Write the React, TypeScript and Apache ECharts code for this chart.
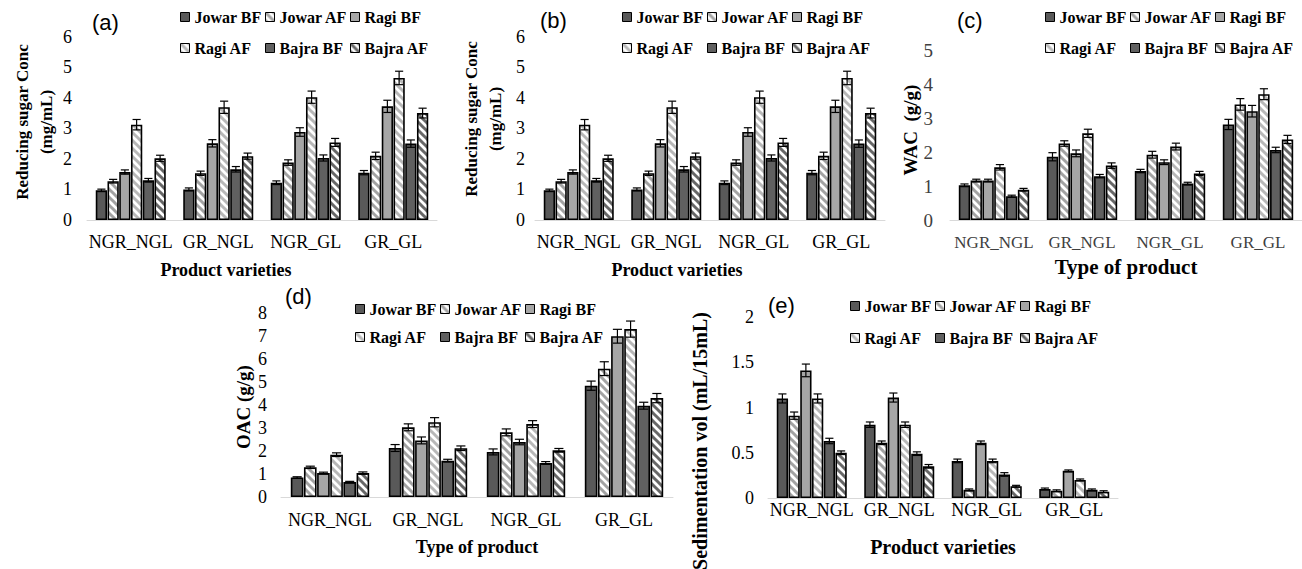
import React, { useEffect, useRef } from "react";
import * as echarts from "echarts";

const categories = ["NGR_NGL", "GR_NGL", "NGR_GL", "GR_GL"];
const seriesNames = ["Jowar BF", "Jowar AF", "Ragi BF", "Ragi AF", "Bajra BF", "Bajra AF"];

// rows = series (Jowar BF, Jowar AF, Ragi BF, Ragi AF, Bajra BF, Bajra AF), cols = categories
const sugarValues = [
  [0.97, 1.0, 1.22, 1.55],
  [1.27, 1.53, 1.88, 2.1],
  [1.57, 2.51, 2.88, 3.72],
  [3.12, 3.69, 4.02, 4.65],
  [1.3, 1.66, 2.03, 2.5],
  [2.02, 2.09, 2.54, 3.5],
];
const sugarErrors = [
  [0.04, 0.05, 0.06, 0.07],
  [0.06, 0.07, 0.09, 0.12],
  [0.07, 0.12, 0.14, 0.2],
  [0.17, 0.2, 0.2, 0.22],
  [0.06, 0.09, 0.1, 0.12],
  [0.1, 0.1, 0.13, 0.16],
];
const wacValues = [
  [1.02, 1.86, 1.44, 2.81],
  [1.16, 2.25, 1.92, 3.4],
  [1.16, 1.96, 1.7, 3.2],
  [1.55, 2.55, 2.16, 3.7],
  [0.7, 1.29, 1.07, 2.06],
  [0.89, 1.6, 1.37, 2.37],
];
const wacErrors = [
  [0.04, 0.12, 0.05, 0.15],
  [0.04, 0.08, 0.1, 0.17],
  [0.04, 0.1, 0.07, 0.17],
  [0.08, 0.12, 0.1, 0.16],
  [0.03, 0.05, 0.04, 0.08],
  [0.04, 0.08, 0.06, 0.12],
];
const oacValues = [
  [0.85, 2.13, 1.96, 4.84],
  [1.29, 3.03, 2.81, 5.58],
  [1.04, 2.46, 2.39, 6.99],
  [1.84, 3.25, 3.17, 7.3],
  [0.65, 1.58, 1.48, 3.97],
  [1.04, 2.12, 2.03, 4.3],
];
const oacErrors = [
  [0.03, 0.15, 0.13, 0.2],
  [0.05, 0.15, 0.15, 0.3],
  [0.04, 0.15, 0.12, 0.3],
  [0.08, 0.2, 0.15, 0.35],
  [0.03, 0.06, 0.06, 0.15],
  [0.05, 0.1, 0.08, 0.2],
];
const sedValues = [
  [1.1, 0.81, 0.41, 0.1],
  [0.91, 0.61, 0.09, 0.08],
  [1.41, 1.11, 0.61, 0.3],
  [1.1, 0.81, 0.41, 0.2],
  [0.63, 0.49, 0.26, 0.09],
  [0.5, 0.35, 0.13, 0.07],
];
const sedErrors = [
  [0.05, 0.03, 0.02, 0.01],
  [0.04, 0.02, 0.01, 0.01],
  [0.07, 0.05, 0.02, 0.01],
  [0.05, 0.03, 0.02, 0.01],
  [0.03, 0.02, 0.02, 0.01],
  [0.02, 0.02, 0.01, 0.01],
];

const SERIF = "Liberation Serif, Times New Roman, serif";
const SANS = "Liberation Sans, Arial, sans-serif";
const CAT_GAP = 0.2;
const BAR_GAP = 0.04;

const fillColors = ["#595959", "#ffffff", "#a6a6a6", "#ffffff", "#606060", "#ffffff"];
const stripeColors = [null, "#a3a3a3", null, "#b8b8b8", null, "#686868"];

// downward diagonal stripes ("\") drawn on a small tile
function stripePattern(color: string): any {
  const size = 8;
  const c = document.createElement("canvas");
  c.width = size;
  c.height = size;
  const ctx = c.getContext("2d")!;
  ctx.fillStyle = "#ffffff";
  ctx.fillRect(0, 0, size, size);
  ctx.strokeStyle = color;
  ctx.lineWidth = 3;
  [-size, 0, size].forEach((k) => {
    ctx.beginPath();
    ctx.moveTo(k - 2, -2);
    ctx.lineTo(k + size + 2, size + 2);
    ctx.stroke();
  });
  return { image: c.toDataURL(), imageWidth: size, imageHeight: size, repeat: "repeat" };
}

function barStyle(si: number) {
  const stripe = stripeColors[si];
  return {
    color: stripe ? stripePattern(stripe) : fillColors[si],
    borderColor: "#000",
    borderWidth: 1.6,
  };
}

const errRender = (params: any, api: any) => {
  const cat = api.value(0);
  const val = api.value(1);
  const err = api.value(2);
  const si = api.value(3);
  const band = api.size([1, 0])[0];
  const avail = band * (1 - CAT_GAP);
  const n = seriesNames.length;
  const bw = avail / (n + (n - 1) * BAR_GAP);
  const c = api.coord([cat, val]);
  const x = c[0] - avail / 2 + si * bw * (1 + BAR_GAP) + bw / 2;
  const yTop = api.coord([cat, val + err])[1];
  const yBot = api.coord([cat, Math.max(val - err, 0)])[1];
  const cap = bw * 0.36;
  const st = { stroke: "#000", lineWidth: 1.2 };
  return {
    type: "group",
    children: [
      { type: "line", shape: { x1: x, y1: yTop, x2: x, y2: yBot }, style: st },
      { type: "line", shape: { x1: x - cap, y1: yTop, x2: x + cap, y2: yTop }, style: st },
      { type: "line", shape: { x1: x - cap, y1: yBot, x2: x + cap, y2: yBot }, style: st },
    ],
  };
};

type Panel = {
  label: string;
  values: number[][];
  errors: number[][];
  left: number;
  top: number;
  width: number;
  height: number;
  max: number;
  interval: number;
  yMargin: number;
  xMargin: number;
  xName: string;
  xNameGap: number;
  xNameSize: number;
  xNamePad: number;
  tickSize: number;
  yTickSize: number;
  textColor: string;
  titleX: number;
  titleY: number;
  legendX: number;
  legendTop: number;
  legendRowGap: number;
  yTitle: string;
  yTitleX: number;
  yTitleY: number;
  yTitleSize: number;
};

const panels: Panel[] = [
  {
    label: "(a)", values: sugarValues, errors: sugarErrors,
    left: 87, top: 36.7, width: 350, height: 183.3, max: 6, interval: 1,
    yMargin: 15, xMargin: 13, xName: "Product varieties", xNameGap: 41, xNameSize: 18, xNamePad: 72,
    tickSize: 18, yTickSize: 18, textColor: "#000",
    titleX: 92, titleY: 11, legendX: 180, legendTop: 9, legendRowGap: 15,
    yTitle: "Reducing sugar Conc\n(mg/mL)", yTitleX: 34.5, yTitleY: 122, yTitleSize: 17,
  },
  {
    label: "(b)", values: sugarValues, errors: sugarErrors,
    left: 535, top: 36.7, width: 350, height: 183.3, max: 6, interval: 1,
    yMargin: 10, xMargin: 13, xName: "Product varieties", xNameGap: 41, xNameSize: 18, xNamePad: 66,
    tickSize: 18, yTickSize: 18, textColor: "#000",
    titleX: 540, titleY: 9, legendX: 622, legendTop: 9, legendRowGap: 15,
    yTitle: "Reducing sugar Conc\n(mg/mL)", yTitleX: 483.5, yTitleY: 119, yTitleSize: 17,
  },
  {
    label: "(c)", values: wacValues, errors: wacErrors,
    left: 950, top: 50, width: 364, height: 170, max: 5, interval: 1,
    yMargin: 17, xMargin: 14, xName: "Type of product", xNameGap: 36, xNameSize: 21, xNamePad: 0,
    tickSize: 17, yTickSize: 19, textColor: "#404040",
    titleX: 957, titleY: 9, legendX: 1045, legendTop: 9, legendRowGap: 15,
    yTitle: "WAC  (g/g)", yTitleX: 910, yTitleY: 130, yTitleSize: 19,
  },
  {
    label: "(d)", values: oacValues, errors: oacErrors,
    left: 281, top: 313, width: 392, height: 184, max: 8, interval: 1,
    yMargin: 14, xMargin: 14, xName: "Type of product", xNameGap: 41, xNameSize: 18, xNamePad: 0,
    tickSize: 18, yTickSize: 18, textColor: "#000",
    titleX: 285, titleY: 285, legendX: 355, legendTop: 301, legendRowGap: 12,
    yTitle: "OAC (g/g)", yTitleX: 243, yTitleY: 407, yTitleSize: 19,
  },
  {
    label: "(e)", values: sedValues, errors: sedErrors,
    left: 768, top: 317, width: 350, height: 181, max: 2, interval: 0.5,
    yMargin: 14, xMargin: 3, xName: "Product varieties", xNameGap: 39, xNameSize: 20, xNamePad: 0,
    tickSize: 18, yTickSize: 18, textColor: "#000",
    titleX: 768, titleY: 294, legendX: 850, legendTop: 298, legendRowGap: 16,
    yTitle: "Sedimentation vol (mL/15mL)", yTitleX: 700, yTitleY: 441, yTitleSize: 20,
  },
];

const legendColumnOffsets = [0, 85, 170];

function buildOption() {
  const grid: any[] = [];
  const xAxis: any[] = [];
  const yAxis: any[] = [];
  const series: any[] = [];
  const legend: any[] = [];
  const title: any[] = [];
  const graphic: any[] = [];
  const styles = seriesNames.map((_, si) => barStyle(si));

  panels.forEach((p, pi) => {
    grid.push({ left: p.left, top: p.top, width: p.width, height: p.height, containLabel: false });
    xAxis.push({
      type: "category",
      gridIndex: pi,
      data: categories,
      axisLine: { show: true, lineStyle: { color: "#d9d9d9", width: 1 } },
      axisTick: { show: false },
      axisLabel: { interval: 0, fontFamily: SERIF, fontSize: p.tickSize, color: p.textColor, margin: p.xMargin },
      name: p.xName,
      nameLocation: "middle",
      nameGap: p.xNameGap,
      nameTextStyle: {
        fontFamily: SERIF, fontWeight: "bold", fontSize: p.xNameSize, color: "#000",
        padding: [0, p.xNamePad, 0, 0],
      },
    });
    yAxis.push({
      type: "value",
      gridIndex: pi,
      min: 0,
      max: p.max,
      interval: p.interval,
      axisLine: { show: false },
      axisTick: { show: false },
      splitLine: { show: false },
      axisLabel: { fontFamily: SERIF, fontSize: p.yTickSize, color: p.textColor, margin: p.yMargin },
    });
    seriesNames.forEach((name, si) => {
      series.push({
        type: "bar",
        name,
        xAxisIndex: pi,
        yAxisIndex: pi,
        data: p.values[si],
        barCategoryGap: "20%",
        barGap: "4%",
        itemStyle: styles[si],
        z: 2,
      });
    });
    const errData: number[][] = [];
    seriesNames.forEach((_, si) => {
      categories.forEach((_, ci) => {
        errData.push([ci, p.values[si][ci], p.errors[si][ci], si]);
      });
    });
    series.push({
      type: "custom",
      name: "err" + pi,
      xAxisIndex: pi,
      yAxisIndex: pi,
      data: errData,
      encode: { x: 0, y: 1 },
      renderItem: errRender,
      z: 5,
      silent: true,
    });
    legendColumnOffsets.forEach((off, col) => {
      legend.push({
        left: p.legendX + off,
        top: p.legendTop,
        orient: "vertical",
        icon: "rect",
        itemWidth: 9,
        itemHeight: 9,
        itemGap: p.legendRowGap,
        selectedMode: false,
        padding: 0,
        data: [seriesNames[col], seriesNames[col + 3]],
        itemStyle: { borderColor: "#000", borderWidth: 1 },
        textStyle: { fontFamily: SERIF, fontWeight: "bold", fontSize: 16, lineHeight: 16, color: "#000" },
      });
    });
    title.push({
      text: p.label,
      left: p.titleX,
      top: p.titleY,
      padding: 0,
      textStyle: { fontFamily: SANS, fontSize: 22, fontWeight: "normal", color: "#000" },
    });
    graphic.push({
      type: "text",
      x: p.yTitleX,
      y: p.yTitleY,
      rotation: Math.PI / 2,
      style: {
        text: p.yTitle,
        fontFamily: SERIF,
        fontWeight: "bold",
        fontSize: p.yTitleSize,
        lineHeight: 24,
        fill: "#000",
        align: "center",
        verticalAlign: "middle",
        textAlign: "center",
        textVerticalAlign: "middle",
      },
    });
  });

  return {
    animation: false,
    backgroundColor: "#ffffff",
    grid,
    xAxis,
    yAxis,
    series,
    legend,
    title,
    graphic,
  };
}

export default function App() {
  const ref = useRef<HTMLDivElement>(null);
  useEffect(() => {
    if (!ref.current) return;
    const chart = echarts.init(ref.current, undefined, { renderer: "svg" });
    chart.setOption(buildOption() as any);
    return () => chart.dispose();
  }, []);
  return (
    <div
      ref={ref}
      style={{ position: "fixed", left: 0, top: 0, width: 1302, height: 569, background: "#fff" }}
    />
  );
}
